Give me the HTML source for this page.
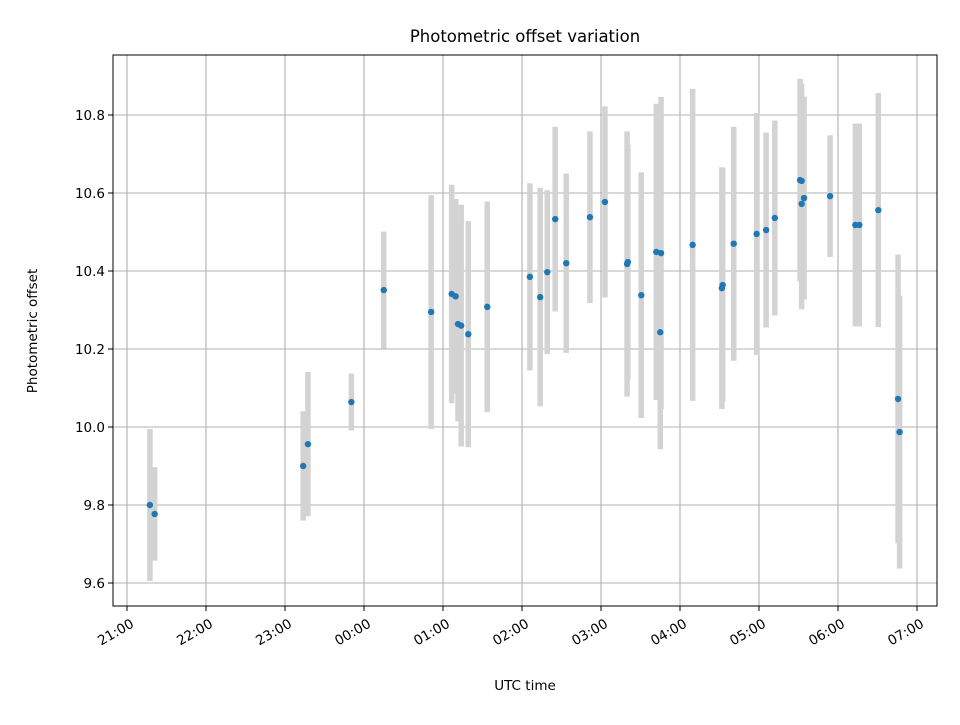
<!DOCTYPE html>
<html><head><meta charset="utf-8"><style>
body{margin:0;background:#fff}
text{font-family:"DejaVu Sans","Liberation Sans",sans-serif;fill:#000}
</style></head><body>
<svg id="chart" width="960" height="720" xmlns="http://www.w3.org/2000/svg">
<rect width="960" height="720" fill="#fff"/>
<g id="grid"></g><g id="bars"></g><g id="pts"></g><g id="axes"></g>
<text x="525" y="42" font-size="16.5" text-anchor="middle">Photometric offset variation</text>
<text x="525" y="690" font-size="13.5" text-anchor="middle">UTC time</text>
<text x="37" y="331" font-size="13.5" text-anchor="middle" transform="rotate(-90 37 331)">Photometric offset</text>
</svg>
<script>
// hours since 21:00
const times=[0.29,0.35,2.23,2.29,2.84,3.25,3.85,4.11,4.16,4.19,4.23,4.32,4.56,5.10,5.23,5.32,5.42,5.56,5.86,6.05,6.33,6.34,6.51,6.70,6.76,6.75,7.16,7.53,7.54,7.68,7.97,8.09,8.20,8.52,8.54,8.54,8.57,8.90,9.22,9.27,9.51,9.76,9.78];
const values=[9.800,9.777,9.900,9.956,10.064,10.351,10.295,10.341,10.335,10.264,10.260,10.238,10.308,10.385,10.333,10.397,10.533,10.420,10.538,10.577,10.418,10.423,10.338,10.449,10.446,10.243,10.467,10.356,10.364,10.470,10.495,10.505,10.536,10.633,10.631,10.572,10.587,10.592,10.518,10.518,10.556,10.072,9.987];
const errors=[0.195,0.12,0.14,0.185,0.073,0.15,0.30,0.28,0.25,0.25,0.31,0.29,0.27,0.24,0.28,0.21,0.237,0.23,0.22,0.245,0.34,0.30,0.315,0.38,0.40,0.30,0.40,0.31,0.30,0.30,0.31,0.25,0.25,0.26,0.25,0.27,0.26,0.156,0.26,0.26,0.30,0.37,0.35];
const xTicks=[0,1,2,3,4,5,6,7,8,9,10];
const xTickLabels=["21:00","22:00","23:00","00:00","01:00","02:00","03:00","04:00","05:00","06:00","07:00"];
const yTicks=[9.6,9.8,10.0,10.2,10.4,10.6,10.8];
const yTickLabels=["9.6","9.8","10.0","10.2","10.4","10.6","10.8"];

const L=113,R=937,T=55,B=606;
const x=h=>127+h*79;
const y=v=>427-(v-10)*390;
const NS="http://www.w3.org/2000/svg";
function mk(parent,tag,attrs){const e=document.createElementNS(NS,tag);for(const k in attrs)e.setAttribute(k,attrs[k]);document.getElementById(parent).appendChild(e);return e;}
xTicks.forEach((t,i)=>{
  const gl=mk('grid','line',{x1:x(t),x2:x(t),y1:T,y2:B,stroke:'#b0b0b0','stroke-width':1.1});
  
  
  const tk=mk('axes','line',{x1:x(t),x2:x(t),y1:B,y2:B+5,stroke:'#000','stroke-width':1});
  
  
  const px=x(t)+3, py=B+12;
  const tx=mk('axes','text',{x:px,y:py,'font-size':13.5,'text-anchor':'end','dominant-baseline':'hanging',transform:`rotate(-30 ${px} ${py})`});
  tx.textContent=xTickLabels[i];
  
  
});
yTicks.forEach((t,i)=>{
  const gl=mk('grid','line',{x1:L,x2:R,y1:y(t),y2:y(t),stroke:'#b0b0b0','stroke-width':1.1});
  
  
  const tk=mk('axes','line',{x1:L-5,x2:L,y1:y(t),y2:y(t),stroke:'#000','stroke-width':1});
  
  
  const tx=mk('axes','text',{x:L-8,y:y(t)+5,'font-size':13.5,'text-anchor':'end'});
  tx.textContent=yTickLabels[i];
  
  
});
times.forEach((t,i)=>{
  const b=mk('bars','line',{x1:x(t),x2:x(t),y1:y(values[i]+errors[i]),y2:y(values[i]-errors[i]),stroke:'#d3d3d3','stroke-width':5.5});
  
  
  const p=mk('pts','circle',{cx:x(t),cy:y(values[i]),r:3.2,fill:'#1f77b4'});
  
  
});
const fr=mk('axes','rect',{x:L,y:T,width:R-L,height:B-T,fill:'none',stroke:'#000','stroke-width':1});


</script>
</body></html>
